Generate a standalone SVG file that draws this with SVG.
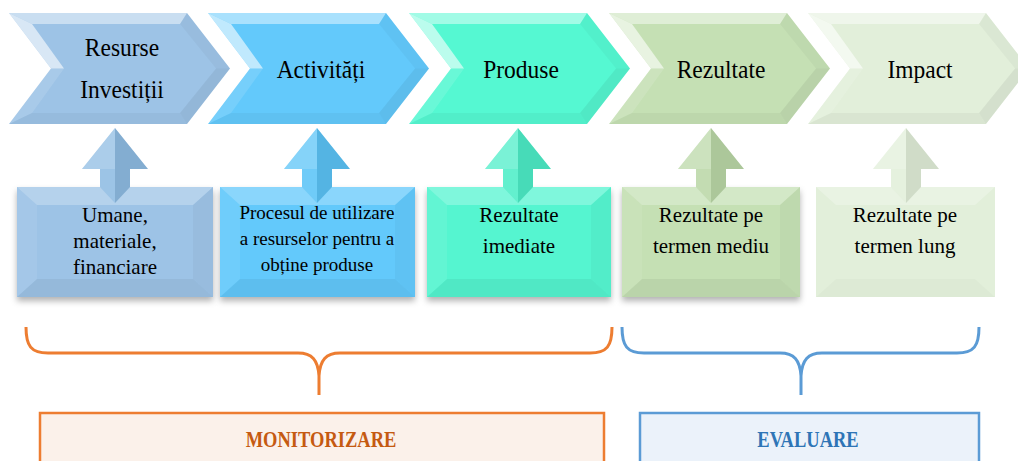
<svg xmlns="http://www.w3.org/2000/svg" width="1018" height="461" viewBox="0 0 1018 461">
<defs>
<style>
text{font-family:"Liberation Serif","Times New Roman",serif}
.t{fill:#000;text-anchor:middle}
.ct{font-size:23.5px}
.bt{font-size:21px}
.bt2{font-size:19px}
.hl{fill:#fff}
.dk{fill:#000}
.lb{font-weight:bold;font-size:18.5px;text-anchor:middle}
</style>
<filter id="sh" x="-10%" y="-10%" width="120%" height="130%">
<feDropShadow dx="0" dy="4" stdDeviation="3" flood-color="#000" flood-opacity="0.3"/>
</filter>
<path id="chev" d="M0,13 L178,13 L221,68.5 L178,124 L0,124 L42,68.5 Z"/>
<g id="chevBevel">
<polygon class="hl" opacity="0.45" points="0,13 178,13 171,24 23,24"/>
<polygon class="hl" opacity="0.6" points="0,13 23,24 55,68.5 42,68.5"/>
<polygon class="hl" opacity="0.12" points="42,68.5 55,68.5 23,113 0,124"/>
<polygon class="dk" opacity="0.03" points="178,13 221,68.5 207,68.5 171,24"/>
<polygon class="dk" opacity="0.06" points="221,68.5 178,124 171,113 207,68.5"/>
<polygon class="dk" opacity="0.04" points="23,113 171,113 178,124 0,124"/>
</g>
<g id="arrow">
<polygon points="0,0 33,41 15,41 15,59 0,75 -15,59 -15,41 -33,41"/>
<polygon class="hl" opacity="0.25" points="0,0 0,41 -15,41 -33,41"/>
<polygon class="dk" opacity="0.08" points="0,0 33,41 15,41 15,59 0,75 0,41"/>
<polygon class="hl" opacity="0.12" points="-15,41 0,41 0,75 -15,59"/>
</g>
</defs>
<rect width="1018" height="461" fill="#fff"/>

<g id="chevron-resurse">
<use href="#chev" x="9" fill="#9DC3E6"/>
<use href="#chevBevel" x="9"/>
<text class="t ct" transform="translate(122,56) scale(1,1.1)">Resurse</text>
<text class="t ct" transform="translate(122,98) scale(1,1.1)">Investiții</text>
</g>
<g id="chevron-activitati">
<use href="#chev" x="208" fill="#63C9FB"/>
<use href="#chevBevel" x="208"/>
<text class="t ct" transform="translate(321,78) scale(1,1.1)">Activități</text>
</g>
<g id="chevron-produse">
<use href="#chev" x="409" fill="#55F8D2"/>
<use href="#chevBevel" x="409"/>
<text class="t ct" transform="translate(521,78) scale(1,1.1)">Produse</text>
</g>
<g id="chevron-rezultate">
<use href="#chev" x="609" fill="#C5E0B4"/>
<use href="#chevBevel" x="609"/>
<text class="t ct" transform="translate(721,78) scale(1,1.1)">Rezultate</text>
</g>
<g id="chevron-impact">
<use href="#chev" x="808" fill="#E2EFDA"/>
<use href="#chevBevel" x="808"/>
<text class="t ct" transform="translate(920,78) scale(1,1.1)">Impact</text>
</g>

<g id="box-umane">
<rect x="17" y="187" width="196" height="110" fill="#9DC3E6" filter="url(#sh)"/>
<polygon class="hl" opacity="0.25" points="17,187 213,187 193,205 37,205"/>
<polygon class="hl" opacity="0.08" points="17,187 37,205 37,279 17,297"/>
<polygon class="dk" opacity="0.03" points="213,187 193,205 193,279 213,297"/>
<polygon class="dk" opacity="0.05" points="37,279 193,279 213,297 17,297"/>
<text class="t bt" x="115" y="222">Umane,</text>
<text class="t bt" x="115" y="248">materiale,</text>
<text class="t bt" x="115" y="274">financiare</text>
</g>
<g id="box-procesul">
<rect x="220" y="187" width="195" height="110" fill="#63C9FB" filter="url(#sh)"/>
<polygon class="hl" opacity="0.25" points="220,187 415,187 395,205 240,205"/>
<polygon class="hl" opacity="0.08" points="220,187 240,205 240,279 220,297"/>
<polygon class="dk" opacity="0.03" points="415,187 395,205 395,279 415,297"/>
<polygon class="dk" opacity="0.05" points="240,279 395,279 415,297 220,297"/>
<text class="t bt2" x="317" y="219">Procesul de utilizare</text>
<text class="t bt2" x="317" y="245">a resurselor pentru a</text>
<text class="t bt2" x="317" y="271">obține produse</text>
</g>
<g id="box-imediate">
<rect x="427" y="187" width="184" height="110" fill="#55F5D0" filter="url(#sh)"/>
<polygon class="hl" opacity="0.25" points="427,187 611,187 591,205 447,205"/>
<polygon class="hl" opacity="0.08" points="427,187 447,205 447,279 427,297"/>
<polygon class="dk" opacity="0.03" points="611,187 591,205 591,279 611,297"/>
<polygon class="dk" opacity="0.05" points="447,279 591,279 611,297 427,297"/>
<text class="t bt" x="519" y="222">Rezultate</text>
<text class="t bt" x="519" y="253">imediate</text>
</g>
<g id="box-mediu">
<rect x="622" y="187" width="178" height="110" fill="#C5E0B4" filter="url(#sh)"/>
<polygon class="hl" opacity="0.25" points="622,187 800,187 780,205 642,205"/>
<polygon class="hl" opacity="0.08" points="622,187 642,205 642,279 622,297"/>
<polygon class="dk" opacity="0.03" points="800,187 780,205 780,279 800,297"/>
<polygon class="dk" opacity="0.05" points="642,279 780,279 800,297 622,297"/>
<text class="t bt" x="711" y="222">Rezultate pe</text>
<text class="t bt" x="711" y="253">termen mediu</text>
</g>
<g id="box-lung">
<rect x="816" y="187" width="179" height="110" fill="#E2EFDA"/>
<polygon class="hl" opacity="0.25" points="816,187 995,187 975,205 836,205"/>
<polygon class="dk" opacity="0.02" points="836,279 975,279 995,297 816,297"/>
<text class="t bt" x="905" y="222">Rezultate pe</text>
<text class="t bt" x="905" y="253">termen lung</text>
</g>

<g id="connectors">
<use href="#arrow" x="115" y="128" fill="#8FBCE3"/>
<use href="#arrow" x="317" y="128" fill="#5CC4F7"/>
<use href="#arrow" x="518" y="128" fill="#4EEEC8"/>
<use href="#arrow" x="711" y="128" fill="#BBD8A8"/>
<use href="#arrow" x="906" y="128" fill="#E2EFDA"/>
<path d="M26,327 C26,346 31,353 48,353 L298,353 C312,353 318,360 319,376 L319,395 M319,376 C320,360 326,353 340,353 L590,353 C607,353 612,346 612,327" fill="none" stroke="#ED7D31" stroke-width="3"/>
<path d="M622,327 C622,346 627,353 644,353 L780,353 C794,353 800,360 801,376 L801,395 M801,376 C802,360 808,353 822,353 L957,353 C974,353 979,346 979,327" fill="none" stroke="#5B9BD5" stroke-width="3"/>
</g>

<g id="monitorizare">
<rect x="40" y="413" width="564" height="60" fill="#FBF1EA" stroke="#ED7D31" stroke-width="2.5"/>
<text class="lb" fill="#C55A11" transform="translate(321,447) scale(1,1.2)">MONITORIZARE</text>
</g>
<g id="evaluare">
<rect x="640" y="413" width="339" height="60" fill="#EBF2FA" stroke="#5B9BD5" stroke-width="2.5"/>
<text class="lb" fill="#2E75B6" transform="translate(808,447) scale(1,1.2)">EVALUARE</text>
</g>
</svg>
